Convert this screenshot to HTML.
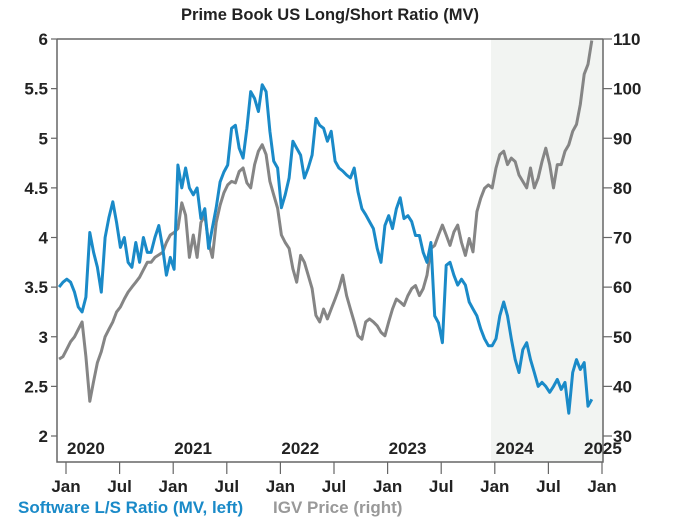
<!DOCTYPE html>
<html><head><meta charset="utf-8">
<style>
html,body{margin:0;padding:0;background:#fff;}
svg{display:block;font-family:"Liberation Sans Narrow","Liberation Sans",sans-serif;font-weight:bold;}
</style></head>
<body>
<svg id="chart" width="680" height="521" viewBox="0 0 680 521" xmlns="http://www.w3.org/2000/svg">
<text x="330" y="20" text-anchor="middle" font-size="16.5" fill="#222">Prime Book US Long/Short Ratio (MV)</text>
<rect x="491" y="39" width="112" height="423" fill="#f2f4f2"/>
<g id="axes"></g>
<g id="series"></g>
<text x="18" y="513" font-size="17" fill="#1a8ac8">Software L/S Ratio (MV, left)</text>
<text x="273" y="513" font-size="17" fill="#999">IGV Price (right)</text>
</svg>
<script>
const leftTicks = [2, 2.5, 3, 3.5, 4, 4.5, 5, 5.5, 6];
const leftTickLabels = ["2", "2.5", "3", "3.5", "4", "4.5", "5", "5.5", "6"];
const rightTicks = [30, 40, 50, 60, 70, 80, 90, 100, 110];
const monthTicks = [0, 6, 12, 18, 24, 30, 36, 42, 48, 54, 60];
const monthLabels = ["Jan","Jul","Jan","Jul","Jan","Jul","Jan","Jul","Jan","Jul","Jan"];
const yearLabels = ["2020","2021","2022","2023","2024","2025"];
const seriesStartMonth = -0.77;
const seriesStepMonths = 0.429;
const softwareRatio = [3.5,3.55,3.58,3.55,3.45,3.3,3.25,3.4,4.05,3.85,3.7,3.45,4.0,4.2,4.36,4.15,3.9,4.0,3.75,3.7,3.95,3.75,4.0,3.85,3.85,4.0,4.12,3.9,3.62,3.8,3.68,4.73,4.5,4.7,4.5,4.43,4.5,4.19,4.29,3.89,4.1,4.3,4.56,4.66,4.73,5.1,5.13,4.9,4.8,5.1,5.47,5.4,5.27,5.54,5.47,5.07,4.77,4.7,4.3,4.43,4.6,4.97,4.9,4.83,4.6,4.7,4.83,5.2,5.13,5.1,4.97,5.07,4.77,4.7,4.67,4.63,4.6,4.7,4.46,4.29,4.23,4.16,4.09,3.89,3.75,4.12,4.22,4.09,4.29,4.4,4.19,4.22,4.16,4.02,4.02,3.85,3.75,3.95,3.21,3.14,2.94,3.72,3.75,3.62,3.52,3.58,3.52,3.35,3.28,3.21,3.08,2.98,2.91,2.91,2.98,3.21,3.35,3.21,2.98,2.77,2.64,2.87,2.94,2.77,2.64,2.5,2.54,2.5,2.44,2.5,2.57,2.47,2.54,2.23,2.64,2.77,2.67,2.74,2.3,2.37];
const igvPrice = [45.5,46,47.5,49,50,51.5,53,46,37,41,44.8,47,50,51.5,53,55,56,57.6,59,60,61,62,63.5,65,65,66,66.5,67,69,70.5,71,71.8,77,74.5,66,70.5,66,73,74.5,69,66,73,76.5,79,80.6,81.3,81,83.3,84,81,80,84.7,87.4,88.7,86.7,81.3,78.6,75.9,70.5,69,67.8,63.7,61,66.4,65,62.4,59.7,54.3,53,55.6,53.6,55.6,57.6,59.7,62.4,58.3,55.6,53,50.2,49.5,53,53.6,53,52.2,50.9,50.2,53,55.6,57.6,57,56.3,58.3,59.7,60.3,58.3,59.7,62.4,67.8,68.4,70.5,72.5,70.5,68.4,71.1,72.5,69,66.4,69.8,67.1,75.2,77.9,79.9,80.6,80,84,86.7,87.4,84.7,86,85.3,82.6,81.3,80,84,80,82,85.3,88,84.7,80,84.7,84.7,87.4,88.7,91.4,92.8,96.8,102.9,104.9,109.7];

const NS = "http://www.w3.org/2000/svg";
const L = 57, R = 603, T = 39, B = 436, AXB = 462;
function xScale(m){ return 66 + m * (536 / 60); }
function yLeft(v){ return B - (v - 2) * (B - T) / 4; }
function yRight(v){ return B - (v - 30) * (B - T) / 80; }
function mk(tag, attrs, parent){ const e = document.createElementNS(NS, tag); for (const k in attrs) e.setAttribute(k, attrs[k]); parent.appendChild(e); return e; }
const axes = document.getElementById('axes');
const series = document.getElementById('series');

const frame = mk('path', {d:`M${L},${T}H${R}M${L},${T}V${AXB}H${R}V${T}`, fill:'none', stroke:'#666', 'stroke-width':1.5}, axes);



leftTicks.forEach((v, i) => {
  const y = yLeft(v);
  const t = mk('line', {x1:L-6, x2:L, y1:y, y2:y, stroke:'#666', 'stroke-width':1.2}, axes);
  
  
  const tx = mk('text', {x:L-9, y:y+6, 'text-anchor':'end', 'font-size':17, fill:'#222'}, axes);
  tx.textContent = leftTickLabels[i];
  
  
});
rightTicks.forEach(v => {
  const y = yRight(v);
  const t = mk('line', {x1:R, x2:R+9, y1:y, y2:y, stroke:'#666', 'stroke-width':1.2}, axes);
  
  
  const tx = mk('text', {x:R+10, y:y+6, 'font-size':17, fill:'#222'}, axes);
  tx.textContent = String(v);
  
  
});
monthTicks.forEach((m, i) => {
  const x = xScale(m);
  const t = mk('line', {x1:x, x2:x, y1:AXB, y2:AXB+12, stroke:'#666', 'stroke-width':1.2}, axes);
  
  
  const tx = mk('text', {x:x, y:AXB+30, 'text-anchor':'middle', 'font-size':17, fill:'#222'}, axes);
  tx.textContent = monthLabels[i];
  
  
});
yearLabels.forEach((yl, i) => {
  const last = i === yearLabels.length - 1;
  const tx = mk('text', {x:last ? xScale(i*12)-18 : xScale(i*12)+1, y:AXB-8, 'font-size':17, fill:'#222'}, axes);
  tx.textContent = yl;
  
  
});

function linePath(vals, yf){
  return vals.map((v, i) => (i ? 'L' : 'M') + xScale(seriesStartMonth + i * seriesStepMonths).toFixed(1) + ',' + yf(v).toFixed(1)).join('');
}
const gray = mk('path', {d:linePath(igvPrice, yRight), fill:'none', stroke:'#858585', 'stroke-width':3, 'stroke-linejoin':'round'}, series);


const blue = mk('path', {d:linePath(softwareRatio, yLeft), fill:'none', stroke:'#1a8ac8', 'stroke-width':3, 'stroke-linejoin':'round'}, series);


</script>
</body></html>
